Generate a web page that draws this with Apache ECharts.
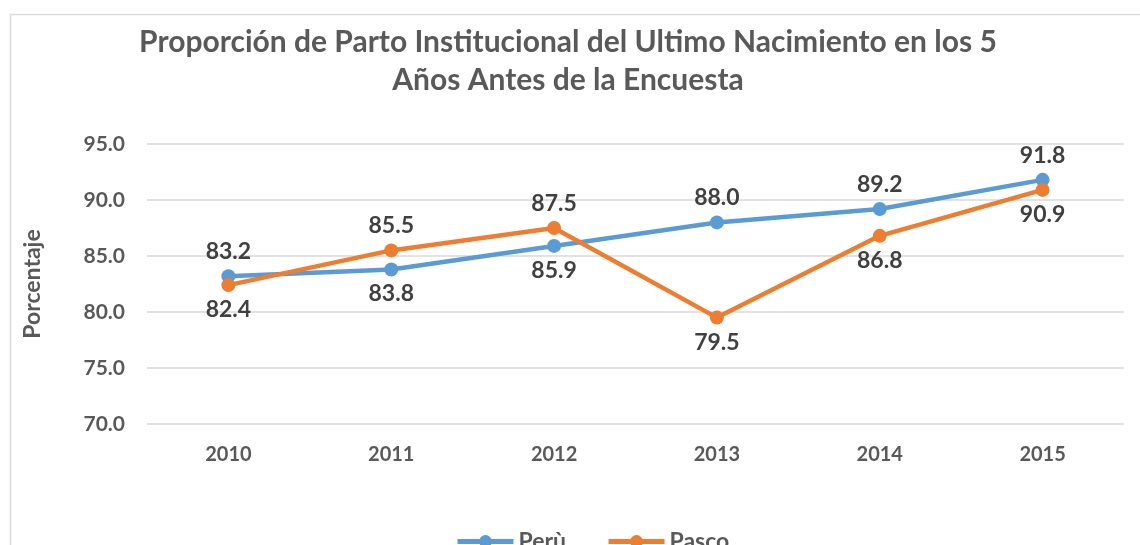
<!DOCTYPE html>
<html><head><meta charset="utf-8">
<script src="https://cdn.jsdelivr.net/npm/echarts@6/dist/echarts.min.js"></script>
<style>html,body{margin:0;padding:0;background:#fff}#c{width:1140px;height:545px}</style>
</head><body><div id="c"></div>
<script>
const categories = ['2010','2011','2012','2013','2014','2015'];
const peru = [83.2, 83.8, 85.9, 88.0, 89.2, 91.8];
const pasco = [82.4, 85.5, 87.5, 79.5, 86.8, 90.9];
const peruLabelPos = ['top','bottom','bottom','top','top','top'];
const pascoLabelPos = ['bottom','top','top','bottom','bottom','bottom'];
const FONT = 'Lato';
const chart = echarts.init(document.getElementById('c'));
function mk(vals, pos){return vals.map((v,i)=>({value:v,label:{position:pos[i]}}));}
const lbl = {show:true, fontFamily:FONT, fontWeight:'bold', fontSize:23, color:'#404040', distance:6, formatter:p=>p.value.toFixed(1)};
chart.setOption({
  animation:false,
  graphic:[{type:'rect',left:8,top:12,shape:{width:1200,height:600},style:{fill:'none',stroke:'#d9d9d9',lineWidth:1.5},silent:true,z:-1}],
  title:{text:'Proporción de Parto Institucional del Ultimo Nacimiento en los 5\nAños Antes de la Encuesta',left:563,textAlign:'center',top:18,
    textStyle:{fontFamily:FONT,fontWeight:'bold',fontSize:30,color:'#595959',lineHeight:38}},
  legend:{bottom:-13,left:450,itemWidth:56,itemHeight:16,itemGap:40,
    lineStyle:{width:5},
    textStyle:{fontFamily:FONT,fontWeight:'bold',fontSize:23,color:'#595959'},data:['Perù','Pasco']},
  grid:{left:147,right:16,top:144,bottom:121},
  xAxis:{type:'category',data:categories,boundaryGap:true,axisLine:{show:false},axisTick:{show:false},
    axisLabel:{fontFamily:FONT,fontWeight:'bold',fontSize:20,color:'#595959',margin:21}},
  yAxis:{type:'value',min:70,max:95,interval:5,name:'Porcentaje',nameLocation:'middle',nameGap:103,nameRotate:90,
    nameTextStyle:{fontFamily:FONT,fontWeight:'bold',fontSize:23,color:'#595959'},
    axisLabel:{fontFamily:FONT,fontWeight:'bold',fontSize:21,color:'#595959',margin:22,formatter:v=>v.toFixed(1)},
    splitLine:{lineStyle:{color:'#d9d9d9',width:1.5}},axisLine:{show:false},axisTick:{show:false}},
  series:[
    {name:'Perù',type:'line',data:mk(peru,peruLabelPos),symbol:'circle',symbolSize:14,
      itemStyle:{color:'#5B9BD5'},lineStyle:{width:4.5,color:'#5B9BD5'},label:lbl},
    {name:'Pasco',type:'line',data:mk(pasco,pascoLabelPos),symbol:'circle',symbolSize:14,
      itemStyle:{color:'#ED7D31'},lineStyle:{width:4.5,color:'#ED7D31'},label:lbl}
  ]
});
</script></body></html>
